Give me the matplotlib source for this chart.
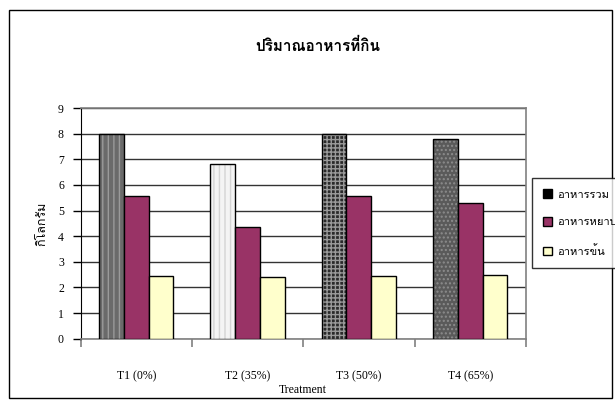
import matplotlib
matplotlib.use("Agg")
import numpy as np
import matplotlib.pyplot as plt
from matplotlib import font_manager
from matplotlib.patches import Patch, Rectangle
from fontTools.ttLib import TTFont

categories = ["T1 (0%)", "T2 (35%)", "T3 (50%)", "T4 (65%)"]
series_names = ["อาหารรวม", "อาหารหยาบ", "อาหารข้น"]
total_feed = [8.0, 6.8, 8.0, 7.8]
roughage = [5.56, 4.35, 5.56, 5.30]
concentrate = [2.43, 2.40, 2.43, 2.47]


def thai_family():
    # first installed font that has Thai glyphs
    for f in font_manager.fontManager.ttflist:
        try:
            cmap = TTFont(f.fname, fontNumber=0, lazy=True).getBestCmap()
        except Exception:
            continue
        if cmap and 0x0E01 in cmap and 0x0E49 in cmap:
            return f.name
    return "DejaVu Sans"


thai = [thai_family(), "DejaVu Sans"]
plt.rcParams["font.family"] = ["Liberation Serif", "DejaVu Sans"]
plt.rcParams["hatch.linewidth"] = 1.0

fig = plt.figure(figsize=(6.15, 4.08), dpi=100)
ax = fig.add_axes([0.131, 0.170, 0.724, 0.565])

x = np.arange(len(categories))
w = 1 / 4.5

# first series: each bar has its own fill pattern
fills = [("#6a6a6a", "#9a9a9a", "|||"),
         ("#f4f4f4", "#d4d4d4", "|||"),
         ("#2a2a2a", "#9a9a9a", "++++"),
         ("#5a5a5a", "#8c8c8c", "....")]
for i, (fc, hc, hatch) in enumerate(fills):
    ax.bar(x[i] - w, total_feed[i], w, color=fc, zorder=3, linewidth=0)
    ax.bar(x[i] - w, total_feed[i], w, facecolor="none", edgecolor=hc,
           hatch=hatch, linewidth=0, zorder=3)
    ax.bar(x[i] - w, total_feed[i], w, facecolor="none", edgecolor="black",
           linewidth=1.0, zorder=4)

ax.bar(x, roughage, w, color="#993366", edgecolor="black", linewidth=1.0, zorder=4)
ax.bar(x + w, concentrate, w, color="#FFFFCC", edgecolor="black", linewidth=1.0, zorder=4)

ax.set_xlim(-0.5, 3.5)
ax.set_ylim(0, 9)
ax.set_yticks(range(10))
ax.yaxis.grid(True, color="#333333", linewidth=1.0, zorder=0)
ax.set_axisbelow(True)

ax.set_xticks(x)
ax.set_xticklabels(categories, fontsize=8.5)
ax.tick_params(axis="x", length=0, pad=23)
ax.set_xticks(np.arange(-0.5, 4.0, 1.0), minor=True)
ax.tick_params(axis="x", which="minor", length=6, color="#808080", width=1.2)
ax.tick_params(axis="y", length=6, width=1.0, labelsize=8.5, pad=6)

for s in ["top", "right"]:
    ax.spines[s].set_color("#808080")
    ax.spines[s].set_linewidth(1.2)
ax.spines["bottom"].set_color("#808080")
ax.spines["bottom"].set_linewidth(1.2)
ax.spines["left"].set_color("black")

ax.set_xlabel("Treatment", fontsize=8.5, labelpad=1)
ax.set_ylabel("กิโลกรัม", fontsize=9, family=thai, labelpad=7)

fig.text(0.517, 0.887, "ปริมาณอาหารที่กิน", ha="center", va="center",
         fontsize=11, fontweight="bold", family=thai)

handles = [Patch(facecolor="black", edgecolor="black"),
           Patch(facecolor="#993366", edgecolor="black"),
           Patch(facecolor="#FFFFCC", edgecolor="black")]
leg = fig.legend(handles, series_names, loc="upper left",
                 bbox_to_anchor=(0.865, 0.563), frameon=True, fancybox=False,
                 prop={"family": thai, "size": 8}, handlelength=0.8,
                 handleheight=0.8, handletextpad=0.5, labelspacing=1.6,
                 borderpad=1.0, borderaxespad=0)
leg.get_frame().set_edgecolor("black")
leg.get_frame().set_linewidth(1.0)

# chart border
fig.patches.append(Rectangle((9 / 615, 10 / 408), 603 / 615, 388 / 408,
                             transform=fig.transFigure, fill=False,
                             edgecolor="black", linewidth=1.0))

fig.savefig("out.png", dpi=100)
